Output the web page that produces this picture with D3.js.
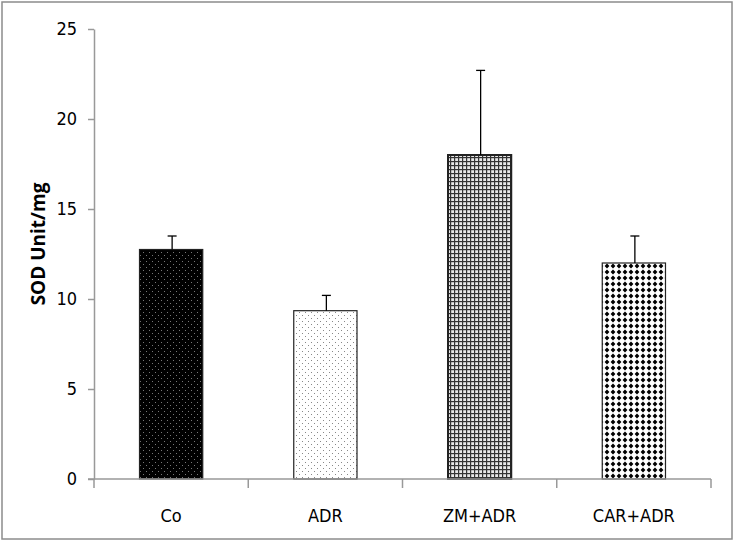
<!DOCTYPE html>
<html>
<head>
<meta charset="utf-8">
<script src="https://cdn.jsdelivr.net/npm/d3@7"></script>
<style>
  body { margin: 0; background: #fff; }
  text { font-family: "DejaVu Sans Condensed", "Liberation Sans Narrow", "Open Sans", sans-serif; }
</style>
</head>
<body>
<svg id="chart" width="735" height="543"></svg>
<script>
// chart values
const groups = ["Co", "ADR", "ZM+ADR", "CAR+ADR"];
const means = [12.75, 9.35, 18.0, 12.0];
const errors = [0.75, 0.85, 4.7, 1.5];
const yTicks = [0, 5, 10, 15, 20, 25];
const patterns = ["pat-co", "pat-adr", "pat-zm", "pat-car"];

const svg = d3.select("#chart");
const margin = { top: 29, right: 24, bottom: 64, left: 94 };
const width = 735 - margin.left - margin.right,
      height = 543 - margin.top - margin.bottom;

// outer frame
svg.append("rect")
    .attr("x", 2).attr("y", 2)
    .attr("width", 730).attr("height", 537)
    .attr("fill", "#fff")
    .attr("stroke", "#8c8c8c")
    .attr("stroke-width", 1.5);

const defs = svg.append("defs");

// black with gray dots
let p = defs.append("pattern").attr("id", "pat-co").attr("patternUnits", "userSpaceOnUse")
    .attr("width", 6).attr("height", 6);
p.append("rect").attr("width", 6).attr("height", 6).attr("fill", "#000");
p.append("rect").attr("x", 1).attr("y", 1).attr("width", 1).attr("height", 1).attr("fill", "#777");
p.append("rect").attr("x", 4).attr("y", 4).attr("width", 1).attr("height", 1).attr("fill", "#777");

// white with gray dots
p = defs.append("pattern").attr("id", "pat-adr").attr("patternUnits", "userSpaceOnUse")
    .attr("width", 6).attr("height", 6);
p.append("rect").attr("width", 6).attr("height", 6).attr("fill", "#fff");
p.append("rect").attr("x", 1).attr("y", 1).attr("width", 1).attr("height", 1).attr("fill", "#888");
p.append("rect").attr("x", 4).attr("y", 4).attr("width", 1).attr("height", 1).attr("fill", "#888");

// fine grid
p = defs.append("pattern").attr("id", "pat-zm").attr("patternUnits", "userSpaceOnUse")
    .attr("width", 4).attr("height", 4);
p.append("rect").attr("width", 4).attr("height", 4).attr("fill", "#e8e8e8");
p.append("rect").attr("x", 0).attr("y", 0).attr("width", 4).attr("height", 1.2).attr("fill", "#333");
p.append("rect").attr("x", 0).attr("y", 0).attr("width", 1.2).attr("height", 4).attr("fill", "#333");

// black diamonds on white
p = defs.append("pattern").attr("id", "pat-car").attr("patternUnits", "userSpaceOnUse")
    .attr("width", 6).attr("height", 6);
p.append("rect").attr("width", 6).attr("height", 6).attr("fill", "#fff");
p.append("path").attr("d", "M3,0.6 L5.4,3 L3,5.4 L0.6,3 Z").attr("fill", "#000");

const g = svg.append("g").attr("transform", "translate(" + margin.left + "," + margin.top + ")");

const x = d3.scaleBand().domain(groups).range([0, width]).paddingInner(0).paddingOuter(0);
const y = d3.scaleLinear().domain([0, 25]).range([height, 0]);

const barW = x.bandwidth() * 0.41;

// bars
g.selectAll(".bar")
    .data(groups)
    .enter().append("rect")
    .attr("class", "bar")
    .attr("x", d => x(d) + (x.bandwidth() - barW) / 2)
    .attr("y", (d, i) => y(means[i]))
    .attr("width", barW)
    .attr("height", (d, i) => height - y(means[i]))
    .attr("fill", (d, i) => "url(#" + patterns[i] + ")")
    .attr("stroke", "#222")
    .attr("stroke-width", (d, i) => i === 2 ? 2 : 1.2);

// error bars (upper only)
const eb = g.selectAll(".err").data(groups).enter().append("g").attr("class", "err");
eb.append("line")
    .attr("x1", d => x(d) + x.bandwidth() / 2 + 1)
    .attr("x2", d => x(d) + x.bandwidth() / 2 + 1)
    .attr("y1", (d, i) => y(means[i]))
    .attr("y2", (d, i) => y(means[i] + errors[i]))
    .attr("stroke", "#000").attr("stroke-width", 1.3);
eb.append("line")
    .attr("x1", d => x(d) + x.bandwidth() / 2 + 1 - 4.5)
    .attr("x2", d => x(d) + x.bandwidth() / 2 + 1 + 4.5)
    .attr("y1", (d, i) => y(means[i] + errors[i]))
    .attr("y2", (d, i) => y(means[i] + errors[i]))
    .attr("stroke", "#000").attr("stroke-width", 1.3);

// y axis
const yAxis = g.append("g")
    .call(d3.axisLeft(y).tickValues(yTicks).tickSize(6).tickPadding(11).tickSizeOuter(0));
yAxis.select(".domain").attr("stroke", "#999").attr("stroke-width", 1.5);
yAxis.selectAll(".tick line").attr("stroke", "#999").attr("stroke-width", 1.5);
yAxis.selectAll(".tick text").attr("font-size", 18).attr("fill", "#000")
    .style("font-family", "'DejaVu Sans Condensed', 'Liberation Sans Narrow', sans-serif");

// x axis with boundary ticks
const xAxis = g.append("g").attr("transform", "translate(0," + height + ")");
xAxis.append("line").attr("x1", -6).attr("x2", width).attr("y1", 0).attr("y2", 0)
    .attr("stroke", "#999").attr("stroke-width", 1.5);
xAxis.selectAll(".bt")
    .data(d3.range(groups.length + 1))
    .enter().append("line")
    .attr("x1", i => i < groups.length ? x(groups[i]) : width)
    .attr("x2", i => i < groups.length ? x(groups[i]) : width)
    .attr("y1", 0).attr("y2", 9)
    .attr("stroke", "#999").attr("stroke-width", 1.5);
xAxis.selectAll(".lbl")
    .data(groups)
    .enter().append("text")
    .attr("x", d => x(d) + x.bandwidth() / 2)
    .attr("y", 43)
    .attr("text-anchor", "middle")
    .attr("font-size", 18)
    .attr("fill", "#000")
    .text(d => d);

// y title
svg.append("text")
    .attr("transform", "translate(45,244) rotate(-90)")
    .attr("text-anchor", "middle")
    .attr("font-size", 19)
    .attr("font-weight", "bold")
    .attr("fill", "#000")
    .style("font-family", "'Open Sans', 'DejaVu Sans', sans-serif")
    .text("SOD Unit/mg");
</script>
</body>
</html>
